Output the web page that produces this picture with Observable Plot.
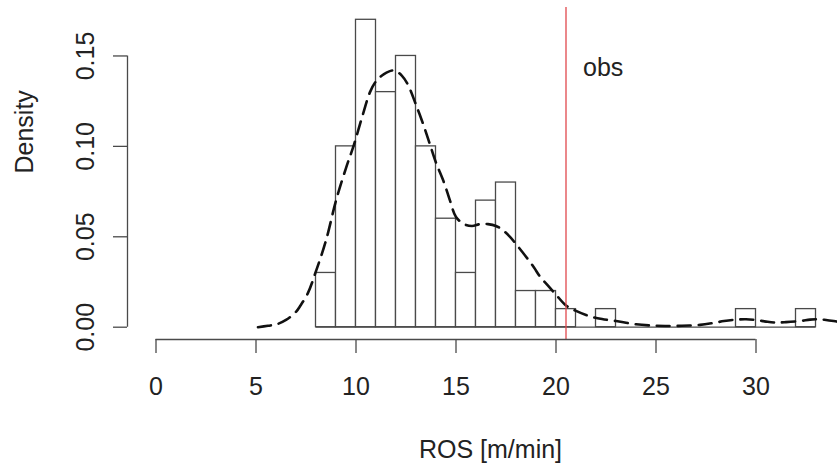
<!DOCTYPE html>
<html>
<head>
<meta charset="utf-8">
<script src="https://cdn.jsdelivr.net/npm/d3@7"></script>
<script src="https://cdn.jsdelivr.net/npm/@observablehq/plot@0.6"></script>
<style>
  html, body { margin: 0; padding: 0; background: #fff; overflow: hidden; }
  #chart svg { display: block; }
</style>
</head>
<body>
<div id="chart"></div>
<script>
// Histogram bins (ROS, m/min) and their densities
const binStarts = [8, 9, 10, 11, 12, 13, 14, 15, 16, 17, 18, 19, 20, 21, 22, 23, 24, 25, 26, 27, 28, 29, 30, 31, 32];
const binEnds   = [9, 10, 11, 12, 13, 14, 15, 16, 17, 18, 19, 20, 21, 22, 23, 24, 25, 26, 27, 28, 29, 30, 31, 32, 33];
const densities = [0.03, 0.10, 0.17, 0.13, 0.15, 0.10, 0.06, 0.03, 0.07, 0.08, 0.02, 0.02, 0.01, 0.00, 0.01, 0.00, 0.00, 0.00, 0.00, 0.00, 0.00, 0.01, 0.00, 0.00, 0.01];

// Kernel density estimate (dashed curve)
const kdeX = [5.1, 5.6, 6.0, 6.5, 7.0, 7.2, 7.6, 8.0, 8.5, 9.0, 9.5, 9.9, 10.3, 10.7, 11.0, 11.4, 11.9, 12.3, 12.6, 13.0, 13.4, 13.7, 14.0, 14.4, 14.7, 15.0, 15.4, 15.8, 16.2, 16.6, 17.0, 17.3, 17.7, 18.0, 18.5, 18.9, 19.2, 19.6, 20.0, 20.5, 21.0, 21.7, 22.3, 23.0, 24.0, 25.0, 25.5, 26.3, 27.2, 27.8, 28.4, 29.0, 29.5, 30.0, 30.5, 30.9, 31.5, 32.2, 32.7, 33.0, 33.5, 34.1, 35.0];
const kdeY = [0.0, 0.0008, 0.0015, 0.004, 0.0085, 0.0116, 0.019, 0.031, 0.048, 0.070, 0.088, 0.101, 0.116, 0.130, 0.136, 0.140, 0.142, 0.139, 0.134, 0.123, 0.111, 0.101, 0.091, 0.080, 0.070, 0.061, 0.057, 0.056, 0.057, 0.057, 0.056, 0.054, 0.050, 0.046, 0.039, 0.033, 0.028, 0.023, 0.018, 0.012, 0.009, 0.006, 0.0045, 0.0034, 0.0016, 0.0008, 0.0007, 0.0008, 0.0013, 0.0022, 0.0034, 0.0042, 0.0044, 0.0040, 0.0031, 0.0026, 0.0028, 0.0034, 0.0042, 0.0044, 0.0040, 0.0030, 0.0015];

// Observed value
const obsValue = 20.5;
const obsLabel = "obs";
const obsLabelX = 22.36;
const obsLabelY = 0.1436;

// Axes
const xTicks = [0, 5, 10, 15, 20, 25, 30];
const yTicks = [0, 0.05, 0.10, 0.15];
const xLabel = "ROS [m/min]";
const yLabel = "Density";
const xDomain = [-1.425, 34.075];
const yDomain = [-0.0068, 0.1768];

const bins = binStarts.map((s, i) => ({x1: s, x2: binEnds[i], d: densities[i]}));
const kde = kdeX.map((x, i) => ({x, y: kdeY[i]}));

const ink = "#222";
const lineInk = "#4a4a4a";

const chart = Plot.plot({
  width: 837,
  height: 467,
  marginLeft: 127,
  marginRight: 0,
  marginTop: 7,
  marginBottom: 128,
  style: {fontFamily: "'Liberation Sans', Arial, Helvetica, sans-serif", fontSize: "25px", color: ink, background: "#fff"},
  x: {domain: xDomain, axis: null},
  y: {domain: yDomain, axis: null},
  marks: [
    Plot.rectY(bins, {x1: "x1", x2: "x2", y1: 0, y2: "d", fill: "#fff", stroke: lineInk, strokeWidth: 1.3}),
    Plot.ruleY([0], {x1: binStarts[0], x2: binEnds[binEnds.length - 1], stroke: lineInk, strokeWidth: 1.3}),
    Plot.line(kde, {x: "x", y: "y", stroke: "#111", strokeWidth: 2.6, strokeDasharray: "13,8", clip: true, curve: "catmull-rom"}),
    Plot.ruleX([obsValue], {stroke: "#e0474c", strokeWidth: 1.3}),
    Plot.text([obsLabel], {x: () => obsLabelX, y: () => obsLabelY, fontSize: 25, fill: ink}),
    // x axis (R style)
    Plot.ruleY([yDomain[0]], {x1: xTicks[0], x2: xTicks[xTicks.length - 1], stroke: lineInk, strokeWidth: 1.3}),
    Plot.axisX(xTicks, {tickSize: 14, tickPadding: 24, stroke: lineInk, strokeWidth: 1.3, fill: ink, fontSize: 25, label: null, tickFormat: d => String(d)}),
    // y axis (R style)
    Plot.ruleX([xDomain[0]], {y1: yTicks[0], y2: yTicks[yTicks.length - 1], stroke: lineInk, strokeWidth: 1.3}),
    Plot.axisY(yTicks, {tickSize: 14, tickPadding: 20, tickRotate: -90, stroke: lineInk, strokeWidth: 1.3, fill: ink, fontSize: 25, label: null, tickFormat: d => d.toFixed(2)}),
    // axis titles
    Plot.text([yLabel], {frameAnchor: "left", rotate: -90, dx: -95, lineAnchor: "bottom", fontSize: 25, fill: ink}),
    Plot.text([xLabel], {frameAnchor: "bottom", dx: 8, dy: 118, lineAnchor: "bottom", fontSize: 25, fill: ink})
  ]
});

document.getElementById("chart").appendChild(chart);
</script>
</body>
</html>
